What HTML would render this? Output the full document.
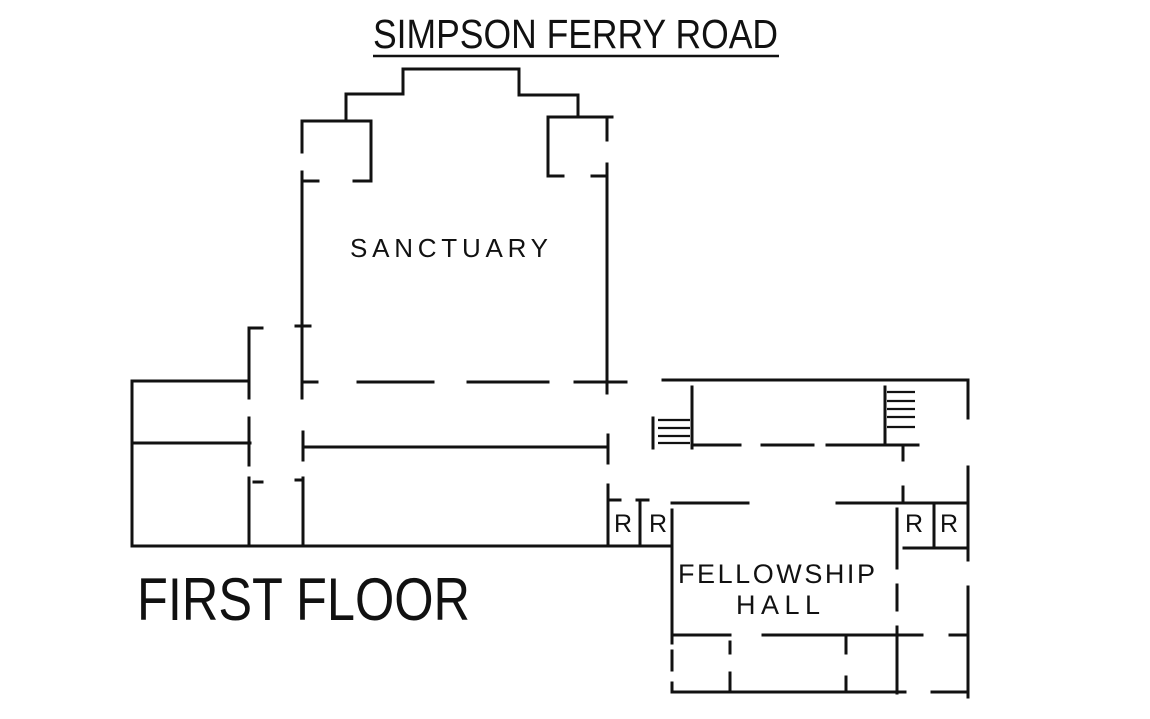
<!DOCTYPE html>
<html><head><meta charset="utf-8"><style>
html,body{margin:0;padding:0;background:#fff;}
svg{display:block;}
text{font-family:"Liberation Sans",sans-serif;fill:#111;}
</style></head><body>
<svg width="1150" height="719" viewBox="0 0 1150 719" xmlns="http://www.w3.org/2000/svg">
<text x="373" y="48" font-size="41" textLength="405" lengthAdjust="spacingAndGlyphs">SIMPSON FERRY ROAD</text>
<line x1="373" y1="56" x2="779" y2="56" stroke="#111" stroke-width="2.5"/>
<text x="350" y="257" font-size="26" textLength="198" lengthAdjust="spacing">SANCTUARY</text>
<text x="678" y="583" font-size="27" textLength="197" lengthAdjust="spacing">FELLOWSHIP</text>
<text x="736" y="614" font-size="27" textLength="84" lengthAdjust="spacing">HALL</text>
<text x="137" y="620" font-size="60" textLength="333" lengthAdjust="spacingAndGlyphs">FIRST FLOOR</text>
<text x="614" y="532" font-size="25">R</text>
<text x="649" y="532" font-size="25">R</text>
<text x="905" y="532" font-size="25">R</text>
<text x="940" y="532" font-size="25">R</text>
<g stroke="#111" stroke-width="3" fill="none" stroke-linecap="square">
<path d="M403 69 H519 M403 69 V94 M519 69 V94 M346 94 H403 M346 94 V121 M519 95 H578 V117"/>
<path d="M302 121 H371 V181 M302 121 V152 M302 172 V398 M302 181 H318 M354 181 H371"/>
<path d="M548 117 H612 M548 117 V176 H563 M592 176 H607 M607 117 V140 M607 164 V393"/>
<path d="M296 326 H310"/>
<path d="M132 381 H248 M132 381 V546 H672 M132 443 H250"/>
<path d="M249 328 V398 M249 328 H262 M249 418 V465 M249 478 V546 M254 482 H262"/>
<path d="M303 432 V460 M303 478 V546 M296 480 H303"/>
<path d="M303 382 H317 M358 382 H433 M468 382 H548 M575 382 H626"/>
<path d="M303 447 H608 M608 435 V463 M608 485 V546"/>
<path d="M608 500 H620 M637 500 H648 M640 500 V546 M672 510 V643 M672 651 V670 M672 683 V692"/>
<path d="M663 380 H968 M968 380 V418"/>
<path d="M653 418 V448 M692 387 V448 M693 445 H740 M762 445 H813 M827 445 H918 M885 387 V445 M903 445 V460"/>
<path d="M968 467 V560 M903 487 V500"/>
<path d="M672 503 H748 M837 503 H968"/>
<path d="M897 509 V568 M897 585 V610 M897 627 V693 M934 503 V548 M904 548 H968"/>
<path d="M672 635 H730 M763 635 H895 M900 635 H922 M950 635 H968"/>
<path d="M730 642 V653 M730 673 V692 M846 637 V653 M846 677 V692"/>
<path d="M672 692 H905 M932 692 H968 M968 587 V697"/>
</g>
<g stroke="#111" stroke-width="2.2">
<path d="M658 420 H690 M658 428 H690 M658 436 H690 M658 443 H690"/>
<path d="M887 392 H915 M887 401 H915 M887 409 H915 M887 427 H915 M887 417 H915"/>
</g>
</svg>
</body></html>
